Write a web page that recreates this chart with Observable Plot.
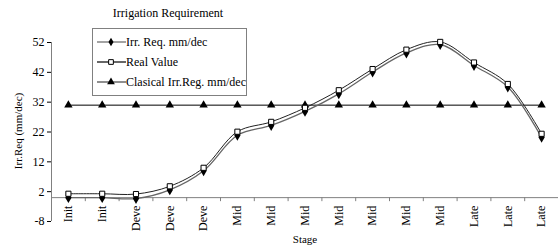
<!DOCTYPE html>
<html>
<head>
<meta charset="utf-8">
<script src="https://cdn.jsdelivr.net/npm/d3@7"></script>
<script src="https://cdn.jsdelivr.net/npm/@observablehq/plot@0.6"></script>
<style>
  body { margin: 0; background: #fff; }
  #wrap { position: relative; width: 558px; height: 246px; font-family: "Times New Roman", "Liberation Serif", "DejaVu Serif", serif; color: #000; }
  .lbl { position: absolute; white-space: nowrap; }
  #legend { position: absolute; left: 92px; top: 28px; width: 155px; height: 68px; border: 1px solid #808080; background: #fff; box-sizing: border-box; }
  .row { position: absolute; left: 3px; height: 16px; display: flex; align-items: center; font-size: 12px; white-space: nowrap; }
  svg text { font-family: "Times New Roman", "Liberation Serif", "DejaVu Serif", serif; }
</style>
</head>
<body>
<div id="wrap"></div>
<script>
const stages = ["Init","Init","Deve","Deve","Deve","Mid","Mid","Mid","Mid","Mid","Mid","Mid","Late","Late","Late"];
const irrReq = [0, 0, -0.3, 2.6, 9, 20.9, 24.2, 28.9, 34.8, 42.1, 48.5, 51.3, 44.3, 37.1, 20.2];
const realValue = [1.3, 1.3, 1.2, 3.8, 10, 22.1, 25.4, 30.1, 36, 43.1, 49.6, 52.2, 45.3, 38.1, 21.4];
const classical = [31, 31, 31, 31, 31, 31, 31, 31, 31, 31, 31, 31, 31, 31, 31];
const yTicks = [-8, 2, 12, 22, 32, 42, 52];
const seriesNames = ["Irr. Req. mm/dec", "Real Value", "Clasical Irr.Reg. mm/dec"];

const idx = stages.map((_, i) => i);
const bounds = d3.range(-0.5, stages.length, 1);

const chart = Plot.plot({
  width: 558,
  height: 246,
  marginLeft: 51,
  marginRight: 0,
  marginTop: 42,
  marginBottom: 25,
  style: { fontFamily: "'Times New Roman', 'Liberation Serif', serif", fontSize: "12px", color: "#000", background: "#fff" },
  x: { domain: [-0.5, stages.length - 0.5], axis: null },
  y: { domain: [-8, 52], ticks: yTicks, tickSize: 4, tickPadding: 3, label: null, tickFormat: d => String(d) },
  marks: [
    Plot.ruleX([-0.5], { stroke: "#808080" }),
    Plot.ruleY([0], { stroke: "#808080" }),
    Plot.ruleX(bounds, { x: d => d, y1: 0, y2: -1.35, stroke: "#808080" }),
    Plot.text(idx, { x: d => d, y: 0, text: i => stages[i], rotate: -90, textAnchor: "end", dy: 8, fontSize: 12 }),
    Plot.lineY(classical, { x: (d, i) => i, y: d => d, stroke: "#000", strokeWidth: 1 }),
    Plot.lineY(irrReq, { x: (d, i) => i, y: d => d, stroke: "#666", strokeWidth: 1.3, curve: "catmull-rom" }),
    Plot.lineY(realValue, { x: (d, i) => i, y: d => d, stroke: "#222", strokeWidth: 1, curve: "catmull-rom" }),
    Plot.dot(classical, { x: (d, i) => i, y: d => d, symbol: "triangle", r: 3.1, fill: "#000", stroke: "none" }),
    Plot.dot(irrReq, { x: (d, i) => i, y: d => d, symbol: "diamond", r: 3.3, fill: "#000", stroke: "none" }),
    Plot.dot(realValue, { x: (d, i) => i, y: d => d, symbol: "square", r: 2.9, fill: "#fff", stroke: "#000", strokeWidth: 1 })
  ]
});

const wrap = document.getElementById("wrap");
wrap.appendChild(chart);

function addLabel(text, css) {
  const d = document.createElement("div");
  d.className = "lbl";
  d.textContent = text;
  Object.assign(d.style, css);
  wrap.appendChild(d);
  return d;
}
addLabel("Irrigation Requirement", { left: "168px", top: "6px", transform: "translateX(-50%)", fontSize: "12px" });
addLabel("Stage", { left: "305px", top: "233px", transform: "translateX(-50%)", fontSize: "11px" });
addLabel("Irr.Req (mm/dec)", { left: "18px", top: "131px", transform: "translate(-50%,-50%) rotate(-90deg)", fontSize: "11px" });

// legend
const legend = document.createElement("div");
legend.id = "legend";
wrap.appendChild(legend);
const legendStyles = [
  { stroke: "#666", sym: d3.symbolDiamond, size: 22, fill: "#000", sstroke: "none" },
  { stroke: "#000", sym: d3.symbolSquare, size: 22, fill: "#fff", sstroke: "#000" },
  { stroke: "#444", sym: d3.symbolTriangle, size: 26, fill: "#000", sstroke: "none" }
];
seriesNames.forEach((name, i) => {
  const row = document.createElement("div");
  row.className = "row";
  row.style.top = (5 + i * 20) + "px";
  const st = legendStyles[i];
  const svg = d3.create("svg").attr("width", 30).attr("height", 16);
  svg.append("line").attr("x1", 1).attr("x2", 30).attr("y1", 8).attr("y2", 8).attr("stroke", st.stroke).attr("stroke-width", 1.2);
  svg.append("path").attr("transform", "translate(15,8)").attr("d", d3.symbol(st.sym, st.size)()).attr("fill", st.fill).attr("stroke", st.sstroke);
  row.appendChild(svg.node());
  const t = document.createElement("span");
  t.textContent = name;
  row.appendChild(t);
  legend.appendChild(row);
});
</script>
</body>
</html>
